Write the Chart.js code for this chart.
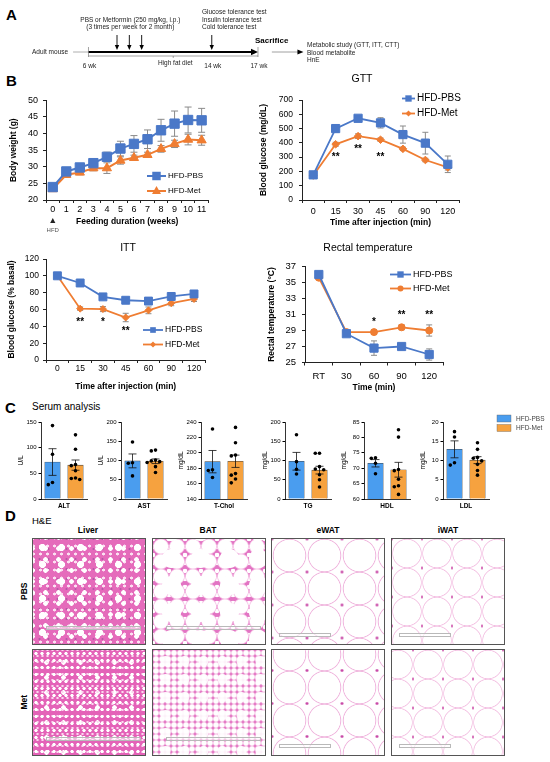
<!DOCTYPE html>
<html>
<head>
<meta charset="utf-8">
<title>HFD metformin figure</title>
<script src="https://cdn.jsdelivr.net/npm/chart.js@4.4.1/dist/chart.umd.min.js"></script>
<style>
  body { margin:0; width:550px; height:762px; background:#fff; position:relative; overflow:hidden;
         font-family:"Liberation Sans", Arial, sans-serif; color:#000; }
  canvas { position:absolute; }
  .lbl { position:absolute; white-space:nowrap; line-height:1; }
  .panel { position:absolute; font-weight:bold; font-size:15px; line-height:1; }
  .col { position:absolute; width:100px; text-align:center; font-weight:bold; font-size:8.5px; line-height:1; }
  .row { position:absolute; width:40px; text-align:center; font-weight:bold; font-size:8.5px; line-height:1; transform:rotate(-90deg); }
  .tis { position:absolute; box-sizing:border-box; border:1.4px solid #555; width:114px; height:107px; overflow:hidden; }
  .sbar { position:absolute; height:4px; box-sizing:border-box; border:0.8px solid #b9b9b9; background:rgba(255,255,255,0.55); }
  .liverP { background-color:#e56bbb;
    background-image: radial-gradient(circle, #fff 0 3.2px, rgba(255,255,255,0) 3.8px),
                      radial-gradient(circle, #fff 0 2px, rgba(255,255,255,0) 2.6px),
                      radial-gradient(circle, #fbe0f1 0 1.2px, rgba(255,255,255,0) 1.8px),
                      radial-gradient(circle, #b65aa6 0 0.8px, rgba(0,0,0,0) 1.3px);
    background-size: 19px 17px, 13px 11px, 7px 8px, 9px 10px; background-position: 0 0, 6px 4px, 4px 3px, 2px 5px; }
  .liverM { background-color:#e463b8;
    background-image: radial-gradient(circle, #fff 0 1.4px, rgba(255,255,255,0) 1.9px),
                      radial-gradient(circle, #fbd6ee 0 0.9px, rgba(255,255,255,0) 1.4px),
                      radial-gradient(circle, #fff 0 2px, rgba(255,255,255,0) 2.5px);
    background-size: 6px 7px, 5px 6px, 17px 15px; background-position: 0 0, 2px 3px, 5px 5px; }
  .batP { background-color:#e274c3;
    background-image: radial-gradient(circle, #fff 0 9px, rgba(255,255,255,0) 10px),
                      radial-gradient(circle, #fff 0 6.6px, #f6c3e6 7.4px, rgba(0,0,0,0) 8.3px),
                      radial-gradient(circle, #fff 0 2px, rgba(255,255,255,0) 2.6px);
    background-size: 29px 27px, 16px 15px, 8px 8px; background-position: 4px 6px, 0 0, 4px 4px; }
  .batM { background-color:#e47cc6;
    background-image: radial-gradient(circle, rgba(255,255,255,0.9) 0 4.5px, rgba(255,255,255,0) 5.5px),
                      radial-gradient(circle, #fff 0 2px, #f7d0ea 2.7px, rgba(0,0,0,0) 3.4px);
    background-size: 19px 18px, 6px 6px; background-position: 3px 2px, 0 0; }
  .ewat { background-color:#fff;
    background-image: radial-gradient(circle, #c94ba8 0 1px, rgba(0,0,0,0) 1.7px),
                      radial-gradient(circle, rgba(0,0,0,0) 0 15.5px, #efb2dc 16.2px, rgba(0,0,0,0) 17.2px);
    background-size: 35px 33px, 35px 33px; background-position: 17.5px 16.5px, 0 0; }
  .iwat { background-color:#fff;
    background-image: radial-gradient(circle, #d05aae 0 0.9px, rgba(0,0,0,0) 1.5px),
                      radial-gradient(circle, rgba(0,0,0,0) 0 13.5px, #f3c0e2 14.2px, rgba(0,0,0,0) 15.2px);
    background-size: 30px 29px, 30px 29px; background-position: 15px 14.5px, 0 0; }
</style>
</head>
<body>

<div class="panel" style="left:6px;top:7px">A</div>
<div class="panel" style="left:6px;top:73px">B</div>
<div class="panel" style="left:5px;top:400px">C</div>
<div class="lbl" style="left:32px;top:402px;font-size:10px">Serum analysis</div>
<div class="panel" style="left:5px;top:508px">D</div>
<div class="lbl" style="left:32px;top:516px;font-size:9.5px">H&amp;E</div>

<div class="col" style="left:38px;top:526px">Liver</div>
<div class="col" style="left:158px;top:526px">BAT</div>
<div class="col" style="left:278px;top:526px">eWAT</div>
<div class="col" style="left:398px;top:526px">iWAT</div>
<div class="row" style="left:4px;top:587px">PBS</div>
<div class="row" style="left:4px;top:698px">Met</div>

<div class="tis liverP" style="left:32px;top:538px"><div class="sbar" style="left:13px;right:4px;bottom:14px"></div></div>
<div class="tis batP" style="left:152px;top:538px"><div class="sbar" style="left:13px;right:4px;bottom:14px"></div></div>
<div class="tis ewat" style="left:271px;top:538px"><div class="sbar" style="left:7px;width:52px;bottom:7px"></div></div>
<div class="tis iwat" style="left:391px;top:538px"><div class="sbar" style="left:7px;width:52px;bottom:7px"></div></div>
<div class="tis liverM" style="left:32px;top:649px"><div class="sbar" style="left:13px;right:4px;bottom:14px"></div></div>
<div class="tis batM" style="left:152px;top:649px"><div class="sbar" style="left:13px;right:4px;bottom:14px"></div></div>
<div class="tis ewat" style="left:271px;top:649px;background-position:17.5px 4px, 0 -12px"><div class="sbar" style="left:7px;width:52px;bottom:7px"></div></div>
<div class="tis iwat" style="left:391px;top:649px;background-position:6px 14.5px, -9px 0"><div class="sbar" style="left:7px;width:52px;bottom:7px"></div></div>

<script>
// ---------- data ----------
// A: timeline (weeks of age)
const leadInWeek = 5
const dietWeeks = [6, 14, 17]
const dietWeekLabels = ['6 wk', '14 wk', '17 wk']
const injectionWeeks = [7.85, 8.65, 9.45]
const testWeek = 14

// B: body weight
const weeks = ['0', '1', '2', '3', '4', '5', '6', '7', '8', '9', '10', '11']
const bwPbs = [23.9, 28.6, 29.8, 31.1, 33.0, 35.5, 36.9, 38.3, 41.0, 43.0, 44.1, 44.0]
const bwPbsErr = [0.5, 0.7, 0.7, 0.9, 1.4, 2.2, 2.5, 2.8, 3.3, 3.8, 3.9, 3.6]
const bwMet = [23.3, 27.6, 28.3, 29.6, 29.6, 31.9, 32.7, 33.6, 35.4, 36.9, 38.2, 38.0]
const bwMetErr = [0.4, 0.8, 0.7, 0.8, 1.6, 1.1, 0.8, 0.8, 1.0, 1.1, 1.6, 1.5]

// B: GTT
const gttTimes = ['0', '15', '30', '45', '60', '90', '120']
const gttPbs = [176, 500, 572, 540, 458, 398, 250]
const gttPbsErr = [12, 25, 12, 36, 60, 76, 58]
const gttMet = [171, 390, 447, 422, 358, 280, 228]
const gttMetErr = [8, 14, 16, 12, 12, 12, 18]
const gttStars = ['', '**', '**', '**', '', '', '']
const gttStarAt = [0, 313, 372, 313, 0, 0, 0]

// B: ITT
const ittTimes = ['0', '15', '30', '45', '60', '90', '120']
const ittPbs = [100, 91.5, 75, 71, 70, 75.5, 78.5]
const ittPbsErr = [2, 3, 2, 2, 4, 3, 4]
const ittMet = [100, 61, 60.5, 50.5, 59, 67.5, 72.5]
const ittMetErr = [2, 2, 3, 5, 4, 3, 3]
const ittStars = ['', '**', '*', '**', '', '', '']
const ittStarAt = [0, 47, 47, 36, 0, 0, 0]

// B: rectal temperature
const rtTimes = ['RT', '30', '60', '90', '120']
const rtPbs = [36.0, 28.6, 26.8, 27.0, 26.0]
const rtPbsErr = [0.2, 0.3, 0.9, 0.3, 0.7]
const rtMet = [35.6, 28.8, 28.8, 29.4, 29.0]
const rtMetErr = [0.2, 0.3, 0.3, 0.3, 0.7]
const rtStars = ['', '', '*', '**', '**']
const rtStarAt = [0, 0, 30.3, 31.1, 31.1]

// C: serum analysis
const groups = ['HFD-PBS', 'HFD-Met']
const serumTests = ['ALT', 'AST', 'T-Chol', 'TG', 'HDL', 'LDL']
const serumUnits = ['U/L', 'U/L', 'mg/dL', 'mg/dL', 'mg/dL', 'mg/dL']
const serumMin = [0, 0, 140, 0, 60, 0]
const serumMax = [150, 200, 240, 200, 85, 20]
const serumStep = [50, 50, 20, 50, 5, 5]
const pbsMean = [72, 99, 188.5, 98, 71.6, 12.9]
const pbsSem = [26, 18, 14.5, 23, 1.2, 2.2]
const metMean = [66, 98, 189, 75, 69.5, 10.1]
const metSem = [10, 6, 8, 10, 2.4, 0.9]
const pbsPoints = [
  [143, 87, 32, 28],
  [148, 94, 93, 60],
  [231, 178, 177, 168],
  [167, 97, 77, 65],
  [73.4, 73.2, 71.6, 68.2],
  [17.5, 16.1, 9.4, 8.8]
]
const metPoints = [
  [125, 97, 67, 65, 55, 41, 40, 38],
  [127, 125, 101, 99, 97, 95, 84, 69],
  [233, 213, 197, 196, 173, 171, 166, 161],
  [119, 119, 84, 78, 76, 63, 50, 31],
  [82.5, 80.1, 69.6, 69.2, 66.4, 64.3, 64.0, 61.5],
  [14.6, 12.9, 10.8, 10.6, 9.9, 9.0, 7.4, 6.2]
]

// ---------- styles ----------
Chart.defaults.font.family = '"Liberation Sans", Arial, sans-serif'
Chart.defaults.color = '#000'
const FONT = '"Liberation Sans", Arial, sans-serif'
const BLUE = '#4a78c8'
const ORANGE = '#ef7d32'
const BAR_BLUE = '#4a9def'
const BAR_ORANGE = '#f6a23f'
const AXIS = '#222'

function addCanvas(left, top, w, h) {
  const cv = document.createElement('canvas')
  cv.width = w
  cv.height = h
  cv.style.cssText = 'left:' + left + 'px;top:' + top + 'px;width:' + w + 'px;height:' + h + 'px'
  document.body.appendChild(cv)
  return cv
}

function marker(ctx, style, x, y, r) {
  ctx.beginPath()
  if (style === 'rect') {
    const s = r * Math.SQRT1_2
    ctx.rect(x - s, y - s, 2 * s, 2 * s)
  } else if (style === 'triangle') {
    ctx.moveTo(x, y - r)
    ctx.lineTo(x + r * 0.9, y + r * 0.6)
    ctx.lineTo(x - r * 0.9, y + r * 0.6)
    ctx.closePath()
  } else if (style === 'rectRot') {
    ctx.moveTo(x, y - r); ctx.lineTo(x + r, y); ctx.lineTo(x, y + r); ctx.lineTo(x - r, y); ctx.closePath()
  } else {
    ctx.arc(x, y, r, 0, Math.PI * 2)
  }
  ctx.fill()
}

function seg(ctx, x1, y1, x2, y2) {
  ctx.beginPath(); ctx.moveTo(x1, y1); ctx.lineTo(x2, y2); ctx.stroke()
}

// ---------- plugins ----------
const errorBarPlugin = {
  id: 'errorBars',
  beforeDatasetsDraw(chart, args, opts) {
    const ctx = chart.ctx, y = chart.scales.y
    ctx.save()
    ctx.strokeStyle = opts.color
    ctx.lineWidth = opts.width
    chart.data.datasets.forEach((ds, di) => {
      chart.getDatasetMeta(di).data.forEach((pt, i) => {
        const e = ds.errors[i]
        const top = y.getPixelForValue(ds.data[i] + e)
        const bot = y.getPixelForValue(ds.data[i] - e)
        seg(ctx, pt.x, top, pt.x, bot)
        seg(ctx, pt.x - opts.cap, top, pt.x + opts.cap, top)
        seg(ctx, pt.x - opts.cap, bot, pt.x + opts.cap, bot)
      })
    })
    ctx.restore()
  }
}

const starPlugin = {
  id: 'stars',
  afterDatasetsDraw(chart, args, opts) {
    if (!opts.marks) return
    const ctx = chart.ctx
    ctx.save()
    ctx.font = 'bold 10px ' + FONT
    ctx.fillStyle = '#000'
    ctx.textAlign = 'center'
    ctx.textBaseline = 'middle'
    opts.marks.forEach((m, i) => {
      if (!m) return
      ctx.fillText(m, chart.scales.x.getPixelForValue(i), chart.scales.y.getPixelForValue(opts.at[i]) + 2)
    })
    ctx.restore()
  }
}

const lineLegendPlugin = {
  id: 'lineLegend',
  afterDraw(chart, args, opts) {
    const ctx = chart.ctx
    ctx.save()
    chart.data.datasets.forEach((ds, i) => {
      const yy = opts.y + i * opts.gap, x0 = opts.x, x1 = opts.x + opts.len
      ctx.strokeStyle = ds.borderColor
      ctx.lineWidth = ds.borderWidth
      seg(ctx, x0, yy, x1, yy)
      ctx.fillStyle = ds.backgroundColor
      marker(ctx, ds.pointStyle, (x0 + x1) / 2, yy, opts.r[i])
      ctx.fillStyle = '#000'
      ctx.font = opts.size + 'px ' + FONT
      ctx.textBaseline = 'middle'
      ctx.fillText(ds.label, x1 + 2, yy)
    })
    ctx.restore()
  }
}

const chartTitlePlugin = {
  id: 'chartTitle',
  afterDraw(chart, args, opts) {
    if (!opts.text) return
    const ctx = chart.ctx
    ctx.save()
    ctx.font = '10.5px ' + FONT
    ctx.fillStyle = '#000'
    ctx.textAlign = 'center'
    ctx.textBaseline = 'middle'
    ctx.fillText(opts.text, opts.x, opts.y)
    ctx.restore()
  }
}

const hfdPlugin = {
  id: 'hfdMark',
  afterDraw(chart, args, opts) {
    if (!opts.show) return
    const ctx = chart.ctx, x = chart.scales.x.getPixelForValue(0), b = chart.scales.x.bottom
    ctx.save()
    ctx.fillStyle = '#222'
    ctx.beginPath()
    ctx.moveTo(x, b - 11); ctx.lineTo(x + 2.6, b - 6); ctx.lineTo(x - 2.6, b - 6); ctx.closePath(); ctx.fill()
    ctx.fillStyle = '#555'
    ctx.font = '6px ' + FONT
    ctx.textAlign = 'center'
    ctx.textBaseline = 'middle'
    ctx.fillText('HFD', x, b + 1.5)
    ctx.restore()
  }
}

function lineChart(p) {
  const cv = addCanvas(p.left, p.top, p.w, p.h)
  return new Chart(cv, {
    type: 'line',
    data: {
      labels: p.labels,
      datasets: [
        { label: 'HFD-PBS', data: p.pbs, errors: p.pbsErr, borderColor: BLUE, backgroundColor: BLUE,
          borderWidth: p.lw, pointStyle: 'rect', pointRadius: p.r[0], pointBorderWidth: 1, tension: 0 },
        { label: 'HFD-Met', data: p.met, errors: p.metErr, borderColor: ORANGE, backgroundColor: ORANGE,
          borderWidth: p.lw, pointStyle: p.metStyle, pointRadius: p.r[1], pointBorderWidth: 1, tension: 0 }
      ]
    },
    options: {
      responsive: false,
      animation: false,
      events: [],
      layout: { padding: { top: p.padTop, right: p.padRight, bottom: p.padBottom || 0, left: 0 } },
      plugins: {
        legend: { display: false },
        tooltip: { enabled: false },
        errorBars: { color: '#8a8a8a', width: 1, cap: p.cap },
        stars: { marks: p.stars, at: p.starAt },
        lineLegend: { x: p.leg[0] - p.left, y: p.leg[1] - p.top, gap: p.leg[2], len: p.leg[3], size: p.legSize, r: p.legR },
        chartTitle: { text: p.title, x: p.titleAt ? p.titleAt[0] - p.left : 0, y: p.titleAt ? p.titleAt[1] - p.top : 0 },
        hfdMark: { show: !!p.hfd }
      },
      scales: {
        x: {
          offset: true,
          grid: { drawOnChartArea: false, tickLength: 3, color: AXIS, offset: true },
          border: { color: AXIS, width: 1 },
          ticks: { font: { size: p.xFont }, padding: p.xPad, maxRotation: 0, autoSkip: false },
          title: { display: true, text: p.xTitle, font: { size: 8.5, weight: 'bold' }, padding: { top: 0, bottom: p.xtb } },
          afterFit: s => { s.height = p.xH }
        },
        y: {
          min: p.yMin, max: p.yMax,
          grid: { drawOnChartArea: false, tickLength: 3, color: AXIS },
          border: { color: AXIS, width: 1 },
          ticks: { stepSize: p.yStep, font: { size: p.yFont }, padding: p.yPad },
          title: { display: true, text: p.yTitle, font: { size: 8.5, weight: 'bold' }, padding: { top: p.ytp, bottom: 0 } },
          afterFit: s => { s.width = p.yW }
        }
      }
    },
    plugins: [errorBarPlugin, starPlugin, lineLegendPlugin, chartTitlePlugin, hfdPlugin]
  })
}

// ---------- A: timeline ----------
const timelinePlugin = {
  id: 'timeline',
  afterDraw(chart) {
    const ctx = chart.ctx, xs = chart.scales.x
    const X = w => xs.getPixelForValue(w)
    const yl = 52
    ctx.save()
    ctx.strokeStyle = '#999'; ctx.lineWidth = 0.8
    seg(ctx, X(leadInWeek), yl, X(dietWeeks[0]), yl)
    ctx.strokeStyle = '#000'; ctx.lineWidth = 2
    seg(ctx, X(dietWeeks[0]), yl, X(dietWeeks[2]) - 5, yl)
    ctx.fillStyle = '#000'
    ctx.beginPath(); ctx.moveTo(X(dietWeeks[2]), yl); ctx.lineTo(X(dietWeeks[2]) - 7, yl - 3.2); ctx.lineTo(X(dietWeeks[2]) - 7, yl + 3.2); ctx.closePath(); ctx.fill()
    // diet bracket
    ctx.strokeStyle = '#666'; ctx.lineWidth = 0.6
    seg(ctx, X(dietWeeks[0]), 56, X(dietWeeks[2]), 56)
    seg(ctx, X(dietWeeks[0]), 47, X(dietWeeks[0]), 57)
    seg(ctx, X(dietWeeks[2]), 47, X(dietWeeks[2]), 57)
    seg(ctx, X((dietWeeks[0] + dietWeeks[2]) / 2), 56, X((dietWeeks[0] + dietWeeks[2]) / 2), 58)
    // down arrows
    ctx.strokeStyle = '#000'; ctx.lineWidth = 0.9
    injectionWeeks.concat([testWeek]).forEach(w => {
      seg(ctx, X(w), 35, X(w), 46)
      ctx.beginPath(); ctx.moveTo(X(w), 50); ctx.lineTo(X(w) - 2.2, 45); ctx.lineTo(X(w) + 2.2, 45); ctx.closePath(); ctx.fill()
    })
    // result arrow
    ctx.strokeStyle = '#888'; ctx.lineWidth = 0.8
    seg(ctx, X(17.9), yl, X(19.6), yl)
    ctx.beginPath(); ctx.moveTo(X(19.95), yl); ctx.lineTo(X(19.95) - 6, yl - 2.6); ctx.lineTo(X(19.95) - 6, yl + 2.6); ctx.closePath(); ctx.fill()
    // texts
    ctx.fillStyle = '#222'
    ctx.font = '6.5px ' + FONT
    ctx.textBaseline = 'middle'
    ctx.textAlign = 'center'
    dietWeeks.forEach((w, i) => ctx.fillText(dietWeekLabels[i], X(w) + 1, 66))
    ctx.fillText('High fat diet', X((dietWeeks[0] + dietWeeks[2]) / 2) + 2, 63)
    ctx.fillText('PBS or Metformin (250 mg/kg, i.p.)', X(injectionWeeks[1]) + 1, 20)
    ctx.fillText('(3 times per week for 2 month)', X(injectionWeeks[1]) + 1, 27.5)
    ctx.textAlign = 'left'
    ctx.fillText('Adult mouse', 32, yl)
    ctx.fillText('Glucose tolerance test', 202, 12.5)
    ctx.fillText('Insulin tolerance test', 202, 20)
    ctx.fillText('Cold tolerance test', 202, 27.5)
    ctx.fillText('Metabolic study (GTT, ITT, CTT)', 307, 45.5)
    ctx.fillText('Blood metabolite', 307, 53)
    ctx.fillText('HnE', 307, 60.5)
    ctx.fillStyle = '#000'
    ctx.font = 'bold 8px ' + FONT
    ctx.fillText('Sacrifice', 255, 41)
    ctx.restore()
  }
}

new Chart(addCanvas(0, 0, 550, 75), {
  type: 'scatter',
  data: { datasets: [] },
  options: {
    responsive: false, animation: false, events: [],
    layout: { padding: 0 },
    plugins: { legend: { display: false }, tooltip: { enabled: false } },
    scales: { x: { type: 'linear', min: 0.257, max: 35.95, display: false }, y: { min: 0, max: 1, display: false } }
  },
  plugins: [timelinePlugin]
})

// ---------- B: line charts ----------
lineChart({
  left: 0, top: 90, w: 216, h: 146, padTop: 10, padBottom: 7, padRight: 5, yW: 46, xH: 29,
  labels: weeks, pbs: bwPbs, pbsErr: bwPbsErr, met: bwMet, metErr: bwMetErr,
  lw: 2, r: [6.6, 5.3], metStyle: 'triangle', cap: 3.5,
  yMin: 20, yMax: 50, yStep: 5, yFont: 9, yPad: 5, ytp: 8.9, yTitle: 'Body weight (g)',
  xFont: 9, xPad: 1.5, xtb: 2, xTitle: 'Feeding duration (weeks)',
  leg: [147, 176, 15, 19], legSize: 8, legR: [6, 5],
  hfd: true
})

lineChart({
  left: 255, top: 70, w: 214, h: 160, padTop: 30, padRight: 10, yW: 47, xH: 30,
  labels: gttTimes, pbs: gttPbs, pbsErr: gttPbsErr, met: gttMet, metErr: gttMetErr,
  lw: 1.8, r: [5.8, 3.8], metStyle: 'rectRot', cap: 3,
  yMin: 0, yMax: 700, yStep: 100, yFont: 8.5, yPad: 6, ytp: 3.9, yTitle: 'Blood glucose (mg/dL)',
  xFont: 9, xPad: 3, xtb: 2, xTitle: 'Time after injection (min)',
  stars: gttStars, starAt: gttStarAt,
  leg: [402, 98.5, 15, 13], legSize: 10, legR: [4.5, 3],
  title: 'GTT', titleAt: [362, 79]
})

lineChart({
  left: 0, top: 236, w: 212, h: 158, padTop: 23, padRight: 4, yW: 46, xH: 34,
  labels: ittTimes, pbs: ittPbs, pbsErr: ittPbsErr, met: ittMet, metErr: ittMetErr,
  lw: 1.8, r: [5.6, 3.5], metStyle: 'rectRot', cap: 3,
  yMin: 0, yMax: 120, yStep: 20, yFont: 8.5, yPad: 4, ytp: 6.9, yTitle: 'Blood glucose (% basal)',
  xFont: 8.5, xPad: 1, xtb: 2, xTitle: 'Time after injection (min)',
  stars: ittStars, starAt: ittStarAt,
  leg: [143, 330, 14.5, 20], legSize: 8.5, legR: [4, 3],
  title: 'ITT', titleAt: [128, 248]
})

lineChart({
  left: 262, top: 236, w: 200, h: 158, padTop: 30.5, padRight: 19, yW: 43, xH: 31.5,
  labels: rtTimes, pbs: rtPbs, pbsErr: rtPbsErr, met: rtMet, metErr: rtMetErr,
  lw: 1.8, r: [5.8, 3.5], metStyle: 'circle', cap: 3,
  yMin: 25, yMax: 37, yStep: 2, yFont: 9.5, yPad: 6, ytp: 4.9, yTitle: 'Rectal temperature (°C)',
  xFont: 9.5, xPad: 5, xtb: 1, xTitle: 'Time (min)',
  stars: rtStars, starAt: rtStarAt,
  leg: [390, 274.5, 14, 21], legSize: 9, legR: [4.5, 3],
  title: 'Rectal temperature', titleAt: [368, 248]
})

// ---------- C: serum bar charts ----------
const serumAxisX = [41, 121, 201, 285, 364, 443]

const serumMarksPlugin = {
  id: 'serumMarks',
  afterDatasetsDraw(chart) {
    const ctx = chart.ctx, y = chart.scales.y, ds = chart.data.datasets[0]
    ctx.save()
    chart.getDatasetMeta(0).data.forEach((bar, g) => {
      const m = ds.data[g], s = ds.sem[g]
      const top = y.getPixelForValue(m + s), bot = y.getPixelForValue(m - s)
      ctx.strokeStyle = '#111'; ctx.lineWidth = 0.8
      seg(ctx, bar.x, top, bar.x, bot)
      seg(ctx, bar.x - 4, top, bar.x + 4, top)
      seg(ctx, bar.x - 4, bot, bar.x + 4, bot)
      // column scatter: spread dots that would overlap
      const placed = []
      ctx.fillStyle = '#000'
      ds.points[g].slice().sort((a, b) => b - a).forEach(v => {
        const py = y.getPixelForValue(v)
        let dx = 0
        for (const c of [0, -1, 1, -2, 2, -3, 3]) {
          const cx = c * 4.2
          if (!placed.some(p => Math.abs(p[1] - py) < 3.9 && Math.abs(p[0] - cx) < 3.9)) { dx = cx; break }
        }
        placed.push([dx, py])
        ctx.beginPath(); ctx.arc(bar.x + dx, py, 1.8, 0, Math.PI * 2); ctx.fill()
      })
    })
    ctx.restore()
  }
}

const serumLegendPlugin = {
  id: 'serumLegend',
  afterDraw(chart, args, opts) {
    if (!opts.show) return
    const ctx = chart.ctx, a = chart.chartArea, ds = chart.data.datasets[0]
    ctx.save()
    chart.data.labels.forEach((lab, i) => {
      const bx = a.right + 8, by = a.top - 7 + i * 9.5
      ctx.fillStyle = ds.backgroundColor[i]
      ctx.fillRect(bx, by, 14, 7)
      ctx.strokeStyle = '#666'; ctx.lineWidth = 0.4
      ctx.strokeRect(bx, by, 14, 7)
      ctx.fillStyle = '#444'
      ctx.font = '6.5px ' + FONT
      ctx.textBaseline = 'middle'
      ctx.fillText(lab, bx + 19, by + 3.8)
    })
    ctx.restore()
  }
}

serumTests.forEach((test, i) => {
  const left = serumAxisX[i] - 26
  const last = i === serumTests.length - 1
  const w = last ? 550 - left : 76
  new Chart(addCanvas(left, 414, w, 97), {
    type: 'bar',
    data: {
      labels: groups,
      datasets: [{
        data: [pbsMean[i], metMean[i]],
        sem: [pbsSem[i], metSem[i]],
        points: [pbsPoints[i], metPoints[i]],
        backgroundColor: [BAR_BLUE, BAR_ORANGE],
        borderColor: '#3c3c3c',
        borderWidth: 0.6,
        barThickness: 15.5
      }]
    },
    options: {
      responsive: false, animation: false, events: [],
      layout: { padding: { top: 8, right: w - 72, left: 0, bottom: 0 } },
      plugins: { legend: { display: false }, tooltip: { enabled: false }, serumLegend: { show: last } },
      scales: {
        x: {
          grid: { display: false },
          border: { color: '#000', width: 0.8 },
          ticks: { display: false },
          title: { display: true, text: test, font: { size: 6.5, weight: 'bold' }, padding: { top: 0, bottom: 1 } },
          afterFit: s => { s.height = 12 }
        },
        y: {
          min: serumMin[i], max: serumMax[i],
          ticks: { stepSize: serumStep[i], font: { size: 6 }, padding: 2 },
          grid: { drawOnChartArea: false, tickLength: 2.5, color: '#000' },
          border: { color: '#000', width: 0.8 },
          title: { display: true, text: serumUnits[i], font: { size: 6.5 }, padding: { top: 2.1, bottom: 0 } },
          afterFit: s => { s.width = 26 }
        }
      }
    },
    plugins: [serumMarksPlugin, serumLegendPlugin]
  })
})
</script>
</body>
</html>
